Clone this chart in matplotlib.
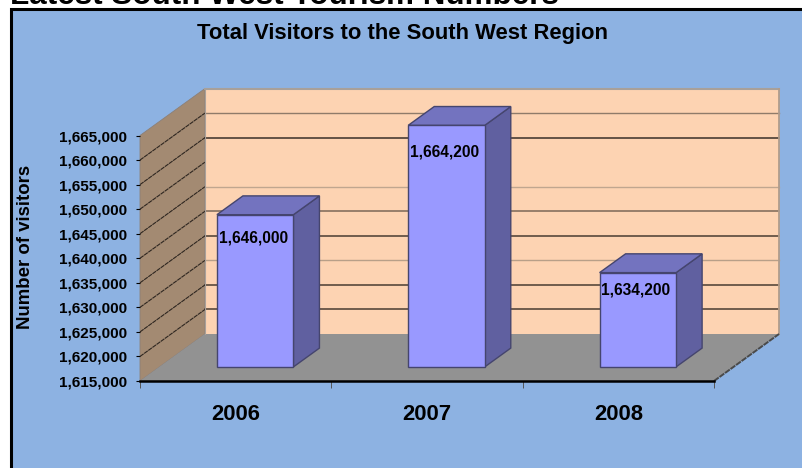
#!/usr/bin/env python3
"""Total visitors to the South West region, drawn as a fake 3D column chart."""

import matplotlib
matplotlib.use('Agg')
import matplotlib.pyplot as plt
from matplotlib.patches import Polygon, Rectangle
from matplotlib.ticker import FuncFormatter

years = ['2006', '2007', '2008']
visitors = [1646000, 1664200, 1634200]
label_drop = [4700, 5500, 3450]  # how far each value label sits under its bar top
y_ticks = list(range(1615000, 1670000, 5000))
# back wall lines come out uneven in the source, (color, width) per level
wall_lines = {1620000: ('#4a3c32', 1.1), 1625000: ('#4a3c32', 1.1),
              1630000: ('#b89f88', 1.0), 1635000: ('#4a3c32', 1.1),
              1640000: ('#85705f', 1.2), 1645000: ('#c0a68f', 1.0),
              1655000: ('#3a2f28', 1.1), 1660000: ('#8f7b6a', 1.0),
              1665000: ('#a8a09a', 1.5)}

W, H = 802, 468
YMIN, YMAX = 1615000, 1665000
DEPTH_X = 65 / 191.3  # wall depth in category units
DEPTH_Y = 47 / 24.55 * 5000  # wall depth in visitor units
BAR_W = 0.4

plt.rcParams['font.family'] = ['Liberation Sans', 'DejaVu Sans']
plt.rcParams['font.weight'] = 'bold'


def pt(x, v, d=0.0):
    return (x + d * DEPTH_X, v + d * DEPTH_Y)


def poly(ax, pts, color, edge='none', lw=0.0, z=1):
    ax.add_patch(Polygon(pts, closed=True, facecolor=color, edgecolor=edge,
                         linewidth=lw, clip_on=False, zorder=z))


fig = plt.figure(figsize=(W / 100, H / 100), dpi=100, facecolor='white')

# chart panel, runs off the right and bottom of the picture
fig.add_artist(Rectangle((10.5 / W, -0.1), 1.0, 1.1 - 9 / H, transform=fig.transFigure,
                         facecolor='#8DB2E2', edgecolor='black', linewidth=2.2, zorder=-1))

fig.text(10 / W, 1 - 4 / H, 'Latest South West Tourism Numbers', fontsize=22.6,
         color='black', ha='left', va='baseline')
fig.text(403 / W, 1 - 34 / H, 'Total Visitors to the South West Region', fontsize=15.8,
         color='black', ha='center', va='center')

ax = fig.add_axes([140 / W, (H - 381) / H, 574 / W, 245.5 / H])
ax.set_xlim(0, 3)
ax.set_ylim(YMIN, YMAX)
ax.patch.set_visible(False)
for name in ['top', 'right', 'left']:
    ax.spines[name].set_visible(False)
ax.spines['bottom'].set_linewidth(1.8)
ax.spines['bottom'].set_zorder(6)

# back wall, side wall, floor
poly(ax, [pt(0, YMIN, 1), pt(3, YMIN, 1), pt(3, YMAX, 1), pt(0, YMAX, 1)], '#FDD3B2')
poly(ax, [pt(0, YMIN), pt(0, YMIN, 1), pt(0, YMAX, 1), pt(0, YMAX)], '#A38A72', '#8c8078', 0.6)
poly(ax, [pt(0, YMIN), pt(3, YMIN), pt(3, YMIN, 1), pt(0, YMIN, 1)], '#929292')

for v, (c, lw) in wall_lines.items():
    ax.plot(*zip(pt(0, v, 1), pt(3, v, 1)), color=c, lw=lw, clip_on=False, zorder=2)
for v in y_ticks[1:-1]:
    ax.plot(*zip(pt(0, v), pt(0, v, 1)), color='#2e2620', lw=0.8, ls=(0, (4, 0.6)),
            clip_on=False, zorder=2)
ax.plot(*zip(pt(3, YMIN, 1), pt(3, YMAX, 1)), color='#b09c8c', lw=1.3, clip_on=False, zorder=2)
ax.plot(*zip(pt(0, YMIN, 1), pt(0, YMAX, 1)), color='#a8a09a', lw=0.8, clip_on=False, zorder=2)
ax.plot(*zip(pt(3, YMIN), pt(3, YMIN, 1)), color='#4a4a4a', lw=1.4, ls=(0, (3, 0.5)),
        clip_on=False, zorder=2)

# columns
for i, val in enumerate(visitors):
    x0 = i + 0.5 - BAR_W / 2
    x1 = i + 0.5 + BAR_W / 2
    d0, d1 = 0.3, 0.7
    edge = '#45456e'
    poly(ax, [pt(x1, YMIN, d0), pt(x1, YMIN, d1), pt(x1, val, d1), pt(x1, val, d0)],
         '#6060A0', edge, 1.0, 3)
    poly(ax, [pt(x0, val, d0), pt(x1, val, d0), pt(x1, val, d1), pt(x0, val, d1)],
         '#7373BF', edge, 1.0, 3)
    poly(ax, [pt(x0, YMIN, d0), pt(x1, YMIN, d0), pt(x1, val, d0), pt(x0, val, d0)],
         '#9999FF', edge, 1.0, 4)
    tx, ty = pt(i + 0.5, val - label_drop[i], d0)
    ax.text(tx - 0.01, ty, f'{val:,}', fontsize=11.2, color='black', ha='center',
            va='center', zorder=5, clip_on=False)

ax.set_yticks(y_ticks)
ax.yaxis.set_major_formatter(FuncFormatter(lambda v, _: f'{int(v):,}'))
ax.tick_params(axis='y', length=3, width=0.8, pad=6.5, labelsize=11, colors='black')
ax.set_xticks([0, 1, 2, 3])
ax.set_xticklabels([])
ax.set_xticks([0.5, 1.5, 2.5], labels=years, minor=True)
ax.tick_params(axis='x', which='major', length=5, width=0.7, color='#555555')
ax.tick_params(axis='x', which='minor', length=0, pad=16.5, labelsize=15.8)

fig.text(26 / W, 1 - 247 / H, 'Number of visitors', fontsize=13.4, color='black',
         rotation=90, ha='center', va='center')

fig.savefig('out.png', dpi=100, facecolor='white')
